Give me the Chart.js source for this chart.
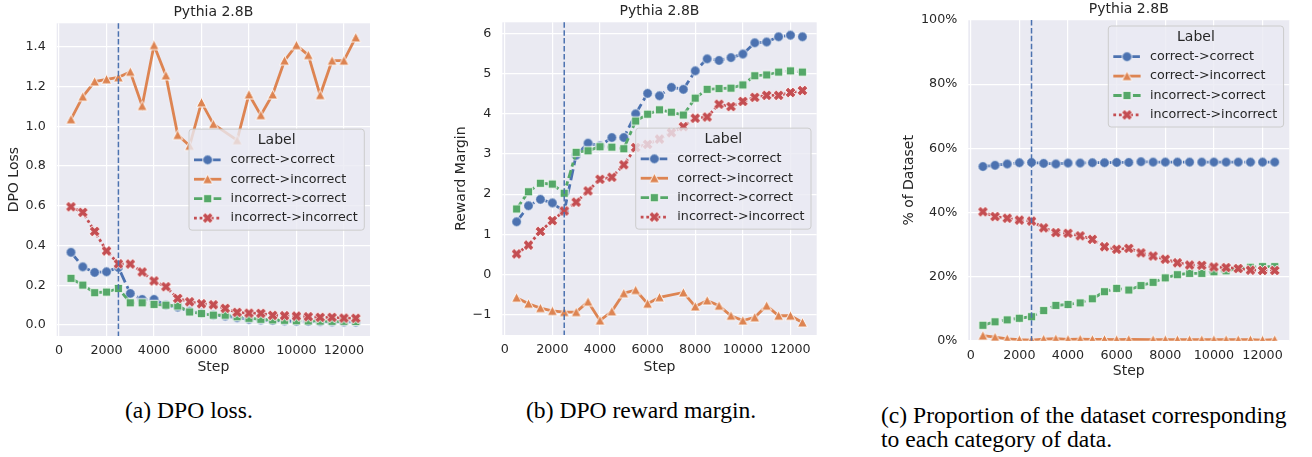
<!DOCTYPE html>
<html>
<head>
<meta charset="utf-8">
<script src="https://cdn.jsdelivr.net/npm/chart.js@4.4.1/dist/chart.umd.min.js"></script>
<style>
  body { margin: 0; background: #fff; width: 1312px; height: 457px; position: relative; overflow: hidden; }
  canvas { position: absolute; top: 0; }
  .cap { position: absolute; font-family: "Liberation Serif", "Times New Roman", serif; font-size: 23.6px; line-height: 24px; color: #000; white-space: nowrap; }
</style>
</head>
<body>
<canvas id="loss" width="437" height="385" style="left:0"></canvas>
<canvas id="margin" width="437" height="385" style="left:437px"></canvas>
<canvas id="share" width="438" height="385" style="left:874px"></canvas>
<div class="cap" style="left:125px; top:397.5px">(a) DPO loss.</div>
<div class="cap" style="left:526px; top:397.5px">(b) DPO reward margin.</div>
<div class="cap" style="left:881px; top:402.5px">(c) Proportion of the dataset corresponding<br>to each category of data.</div>
<script>
const steps = [500, 1000, 1500, 2000, 2500, 3000, 3500, 4000, 4500, 5000, 5500, 6000, 6500,
  7000, 7500, 8000, 8500, 9000, 9500, 10000, 10500, 11000, 11500, 12000, 12500];
const seriesLabels = ['correct->correct', 'correct->incorrect', 'incorrect->correct', 'incorrect->incorrect'];
const markStep = 2500;
const panelTitle = 'Pythia 2.8B';

// (a) DPO loss
const lossCC = [0.366, 0.293, 0.265, 0.268, 0.29, 0.159, 0.129, 0.129, 0.1, 0.09, 0.07, 0.06, 0.05,
  0.045, 0.037, 0.029, 0.026, 0.023, 0.021, 0.019, 0.018, 0.017, 0.016, 0.016, 0.015];
const lossCI = [1.035, 1.149, 1.225, 1.236, 1.246, 1.274, 1.102, 1.408, 1.256, 0.956, 0.902, 1.12, 1.011,
  null, 0.93, 1.16, 1.056, 1.16, 1.33, 1.408, 1.358, 1.157, 1.33, 1.33, 1.447];
const lossIC = [0.235, 0.201, 0.163, 0.166, 0.184, 0.112, 0.112, 0.104, 0.1, 0.096, 0.066, 0.058, 0.05,
  0.05, 0.042, 0.034, 0.029, 0.026, 0.024, 0.022, 0.021, 0.02, 0.019, 0.019, 0.018];
const lossII = [0.595, 0.567, 0.471, 0.373, 0.308, 0.307, 0.267, 0.222, 0.193, 0.134, 0.117, 0.107, 0.102,
  0.084, 0.064, 0.06, 0.059, 0.049, 0.047, 0.045, 0.042, 0.039, 0.039, 0.035, 0.034];

// (b) reward margin
const marginCC = [1.31, 1.71, 1.87, 1.78, 1.57, 2.97, 3.27, 3.2, 3.41, 3.41, 4.0, 4.51, 4.45,
  4.66, 4.61, 5.07, 5.37, 5.33, 5.4, 5.49, 5.77, 5.79, 5.92, 5.96, 5.92];
const marginCI = [-0.58, -0.73, -0.84, -0.91, -0.94, -0.94, -0.68, -1.15, -0.92, -0.47, -0.39, -0.73, -0.57,
  null, -0.45, -0.8, -0.65, -0.78, -1.03, -1.15, -1.07, -0.78, -1.03, -1.03, -1.2];
const marginIC = [1.63, 2.06, 2.27, 2.25, 2.02, 3.04, 3.08, 3.18, 3.17, 3.13, 3.82, 3.99, 4.1,
  4.04, 3.97, 4.39, 4.61, 4.63, 4.64, 4.72, 4.95, 4.97, 5.04, 5.07, 5.04];
const marginII = [0.51, 0.73, 1.07, 1.34, 1.58, 1.8, 2.08, 2.37, 2.42, 2.73, 3.16, 3.24, 3.37,
  3.53, 3.68, 3.89, 3.92, 4.24, 4.18, 4.31, 4.41, 4.46, 4.46, 4.53, 4.58];

// (c) % of dataset
const pctCC = [54.3, 54.7, 55.1, 55.5, 55.6, 55.3, 55.1, 55.4, 55.4, 55.5, 55.5, 55.6, 55.6,
  55.8, 55.7, 55.7, 55.7, 55.7, 55.7, 55.7, 55.7, 55.7, 55.7, 55.7, 55.7];
const pctCI = [1.6, 1.1, 0.6, 0.3, 0.2, 0.5, 0.6, 0.4, 0.5, 0.4, 0.4, 0.3, 0.4,
  null, 0.3, 0.3, 0.3, 0.3, 0.3, 0.3, 0.3, 0.3, 0.3, 0.2, 0.3];
const pctIC = [4.8, 5.9, 6.5, 7.0, 7.5, 9.4, 11.0, 11.3, 11.8, 13.1, 15.3, 16.3, 15.8,
  17.2, 18.2, 19.6, 20.6, 21.0, 21.0, 21.5, 21.8, 22.5, 22.9, 23.1, 23.1];
const pctII = [40.2, 38.7, 38.2, 37.6, 37.3, 35.2, 33.7, 33.5, 32.7, 31.6, 29.3, 28.5, 28.8,
  27.4, 26.4, 25.4, 24.3, 23.6, 23.5, 23.0, 22.8, 22.5, 22.0, 21.9, 21.9];

const stepTicks = [0, 2000, 4000, 6000, 8000, 10000, 12000];
const lossTicks = [0, 0.2, 0.4, 0.6, 0.8, 1.0, 1.2, 1.4];
const marginTicks = [-1, 0, 1, 2, 3, 4, 5, 6];
const pctTicks = [0, 20, 40, 60, 80, 100];

const palette = ['#4c72b0', '#dd8452', '#55a868', '#c44e52'];
const dashes = [[11.2, 4.2], [], [8.4, 3.5, 4.2, 3.5], [2.8, 2.8]];
const ink = '#262626';
const fam = '"DejaVu Sans", sans-serif';

function makeMarker(shape, color) {
  const c = document.createElement('canvas');
  c.width = c.height = 15;
  const ctx = c.getContext('2d');
  ctx.translate(7.5, 7.5);
  ctx.fillStyle = color;
  ctx.strokeStyle = '#fff';
  ctx.lineWidth = 0.9;
  ctx.beginPath();
  if (shape === 'circle') {
    ctx.arc(0, 0, 4.9, 0, Math.PI * 2);
  } else if (shape === 'triangle') {
    ctx.moveTo(0, -5); ctx.lineTo(5, 4.5); ctx.lineTo(-5, 4.5); ctx.closePath();
  } else if (shape === 'square') {
    ctx.rect(-4.2, -4.2, 8.4, 8.4);
  } else {
    const s = 11;
    const pts = [[-0.5, -0.2], [-0.2, -0.2], [-0.2, -0.5], [0.2, -0.5], [0.2, -0.2], [0.5, -0.2],
      [0.5, 0.2], [0.2, 0.2], [0.2, 0.5], [-0.2, 0.5], [-0.2, 0.2], [-0.5, 0.2]];
    ctx.rotate(Math.PI / 4);
    pts.forEach(([px, py], i) => i ? ctx.lineTo(px * s, py * s) : ctx.moveTo(px * s, py * s));
    ctx.closePath();
  }
  ctx.fill();
  ctx.stroke();
  return c;
}

const markers = ['circle', 'triangle', 'square', 'x'].map((m, i) => makeMarker(m, palette[i]));

const shadePlugin = {
  id: 'shade',
  beforeDraw(chart) {
    const { ctx, chartArea: a } = chart;
    ctx.save();
    ctx.fillStyle = '#eaeaf2';
    ctx.fillRect(a.left, a.top, a.right - a.left, a.bottom - a.top);
    ctx.restore();
  }
};

const boxLegend = {
  id: 'boxLegend',
  afterDatasetsDraw(chart, args, opts) {
    const { ctx, chartArea: a } = chart;

    // vertical marker at the chosen step
    const vx = chart.scales.x.getPixelForValue(markStep);
    ctx.save();
    ctx.strokeStyle = palette[0];
    ctx.lineWidth = 1.5;
    ctx.setLineDash([5.5, 2.4]);
    ctx.beginPath();
    ctx.moveTo(vx, a.top);
    ctx.lineTo(vx, a.bottom);
    ctx.stroke();
    ctx.setLineDash([]);

    ctx.font = `12.7px ${fam}`;
    const textW = Math.max(...seriesLabels.map(l => ctx.measureText(l).width));
    const w = 41.6 + textW + 6.5;
    const h = 101;
    const left = a.right - 5.7 - w;
    const top = opts.where === 'top' ? a.top + 6 : (a.top + a.bottom) / 2 - h / 2;

    ctx.beginPath();
    ctx.roundRect(left, top, w, h, 3);
    ctx.fillStyle = 'rgba(234,234,242,0.8)';
    ctx.fill();
    ctx.strokeStyle = '#cccccc';
    ctx.lineWidth = 1;
    ctx.stroke();

    ctx.fillStyle = ink;
    ctx.textBaseline = 'middle';
    ctx.textAlign = 'center';
    ctx.font = `14px ${fam}`;
    ctx.fillText('Label', left + w / 2, top + 11);

    ctx.textAlign = 'left';
    ctx.font = `12.7px ${fam}`;
    seriesLabels.forEach((lab, i) => {
      const y = top + 30.7 + i * 19.4;
      ctx.strokeStyle = palette[i];
      ctx.lineWidth = 2.8;
      ctx.setLineDash(dashes[i]);
      ctx.beginPath();
      ctx.moveTo(left + 5, y);
      ctx.lineTo(left + 32.3, y);
      ctx.stroke();
      ctx.setLineDash([]);
      ctx.drawImage(markers[i], left + 18.65 - 7.5, y - 7.5);
      ctx.fillStyle = ink;
      ctx.fillText(lab, left + 41.6, y);
    });

    // panel title, centred over the plot area
    ctx.textAlign = 'center';
    ctx.font = `14px ${fam}`;
    ctx.fillText(panelTitle, (a.left + a.right) / 2, opts.titleY);
    ctx.restore();
  }
};

function buildChart(id, series, opt) {
  const tickFont = { family: fam, size: 12.7 };
  const labelFont = { family: fam, size: 14 };
  return new Chart(document.getElementById(id), {
    type: 'line',
    data: {
      datasets: series.map((vals, i) => ({
        label: seriesLabels[i],
        data: steps.map((s, k) => ({ x: s, y: vals[k] })),
        borderColor: palette[i],
        backgroundColor: palette[i],
        borderWidth: 2.8,
        borderDash: dashes[i],
        pointStyle: markers[i],
        pointRadius: 5,
        pointHoverRadius: 5,
        spanGaps: true,
        clip: 0,
        order: 3 - i,
        tension: 0
      }))
    },
    options: {
      responsive: false,
      animation: false,
      devicePixelRatio: 1,
      events: [],
      layout: { padding: { left: 0, right: opt.padRight, top: opt.padTop, bottom: opt.padBottom } },
      plugins: {
        legend: { display: false },
        tooltip: { enabled: false },
        title: { display: false },
        boxLegend: { where: opt.legendAt, titleY: opt.titleY }
      },
      scales: {
        x: {
          type: 'linear', min: -100, max: 13100,
          afterBuildTicks: s => { s.ticks = stepTicks.map(v => ({ value: v })); },
          afterFit: s => { s.height = opt.xHeight; },
          grid: { color: '#ffffff', lineWidth: 1.2, drawTicks: false },
          border: { display: false },
          ticks: { color: ink, font: tickFont, padding: 7.5, maxRotation: 0, autoSkip: false, callback: v => String(v) },
          title: { display: true, text: 'Step', color: ink, font: labelFont, padding: { top: 0, bottom: 0 } }
        },
        y: {
          type: 'linear', min: opt.yMin, max: opt.yMax,
          afterBuildTicks: s => { s.ticks = opt.yTicks.map(v => ({ value: v })); },
          afterFit: s => { s.width = opt.yWidth; },
          grid: { color: '#ffffff', lineWidth: 1.2, drawTicks: false },
          border: { display: false },
          ticks: { color: ink, font: tickFont, padding: 11, autoSkip: false, callback: opt.yFmt },
          title: { display: true, text: opt.yTitle, color: ink, font: labelFont, padding: { top: opt.yTitlePad, bottom: 0 } }
        }
      }
    },
    plugins: [shadePlugin, boxLegend]
  });
}

buildChart('loss', [lossCC, lossCI, lossIC, lossII], {
  yTitle: 'DPO Loss', yTicks: lossTicks, yMin: -0.055, yMax: 1.518,
  yFmt: v => v.toFixed(1),
  yWidth: 56.7, yTitlePad: 5.6, padRight: 67, padTop: 23.3, padBottom: 8.9, xHeight: 40.1,
  titleY: 12.7, legendAt: 'center'
});

buildChart('margin', [marginCC, marginCI, marginIC, marginII], {
  yTitle: 'Reward Margin', yTicks: marginTicks, yMin: -1.51, yMax: 6.28,
  yFmt: v => (v < 0 ? '\u2212' + Math.abs(v) : String(v)),
  yWidth: 65.3, yTitlePad: 16.3, padRight: 57.3, padTop: 22.3, padBottom: 8.9, xHeight: 41.1,
  titleY: 11.5, legendAt: 'center'
});

buildChart('share', [pctCC, pctCI, pctIC, pctII], {
  yTitle: '% of Dataset', yTicks: pctTicks, yMin: 0, yMax: 100,
  yFmt: v => v + '%',
  yWidth: 94.3, yTitlePad: 26.9, padRight: 22.7, padTop: 20, padBottom: 4.9, xHeight: 39.4,
  titleY: 9.5, legendAt: 'top'
});
</script>
</body>
</html>
